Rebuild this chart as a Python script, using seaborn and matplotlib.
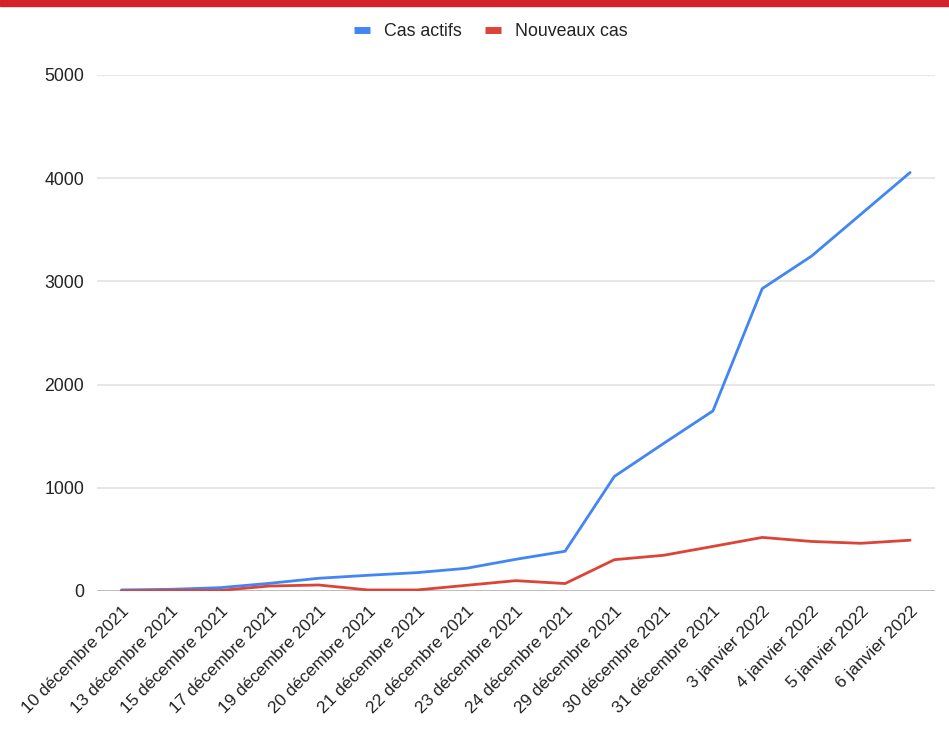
import pandas as pd
import numpy as np
import matplotlib.pyplot as plt
import seaborn as sns
from matplotlib.patches import Rectangle
from matplotlib.lines import Line2D

dates = ["10 décembre 2021", "13 décembre 2021", "15 décembre 2021", "17 décembre 2021",
         "19 décembre 2021", "20 décembre 2021", "21 décembre 2021", "22 décembre 2021",
         "23 décembre 2021", "24 décembre 2021", "29 décembre 2021", "30 décembre 2021",
         "31 décembre 2021", "3 janvier 2022", "4 janvier 2022", "5 janvier 2022",
         "6 janvier 2022"]
cas_actifs = [10, 16, 32, 74, 123, 152, 178, 220, 307, 385, 1110, 1430, 1745,
              2930, 3245, 3650, 4055]
nouveaux_cas = [0, 5, 5, 48, 58, 10, 10, 55, 100, 72, 303, 346, 432,
                519, 480, 462, 492]

series_names = ["Cas actifs", "Nouveaux cas"]
colors = ["#4285F4", "#DB4437"]

df = pd.DataFrame({
    "idx": list(range(len(dates))) * 2,
    "valeur": cas_actifs + nouveaux_cas,
    "serie": [series_names[0]] * len(dates) + [series_names[1]] * len(dates),
})

sns.set_theme(style="white")
plt.rcParams['font.family'] = ['Liberation Sans', 'DejaVu Sans']

fig = plt.figure(figsize=(9.49, 7.46), dpi=100)
ax = fig.add_axes([0.102, 0.2078, 0.883, 0.6917])

sns.lineplot(data=df, x="idx", y="valeur", hue="serie", palette=colors,
             linewidth=2.0, sort=False, legend=False, ax=ax, zorder=3)

ax.set_xlim(-0.5, len(dates) - 0.5)
ax.set_ylim(0, 5000)
ax.set_yticks([0, 1000, 2000, 3000, 4000, 5000])
ax.set_yticklabels(["0", "1000", "2000", "3000", "4000", "5000"], fontsize=12.7, color="#222222")
ax.set_xticks(range(len(dates)))
ax.set_xticklabels(dates, rotation=45, ha="right", rotation_mode="anchor",
                   fontsize=12.4, color="#222222")
ax.tick_params(axis="y", length=0, pad=9)
ax.tick_params(axis="x", length=0, pad=9)
ax.set_xlabel("")
ax.set_ylabel("")

ax.grid(axis="y", color="#e3e3e3", linewidth=1.2, zorder=0)
ax.axhline(0, color="#b0b0b0", linewidth=1.8, zorder=2)
for s in ax.spines.values():
    s.set_visible(False)

# red band at the top
fig.patches.append(Rectangle((0, 0.992), 1, 0.008, transform=fig.transFigure,
                             color="#D3222A", zorder=10))

handles = [Line2D([], [], color=c, linewidth=5, solid_capstyle="butt") for c in colors]
fig.legend(handles, series_names, loc="center", bbox_to_anchor=(0.517, 0.958),
           ncol=2, frameon=False, fontsize=12.8, handlelength=0.9,
           columnspacing=1.3, handletextpad=0.8, labelcolor="#222222")

fig.savefig("out.png", dpi=100)
